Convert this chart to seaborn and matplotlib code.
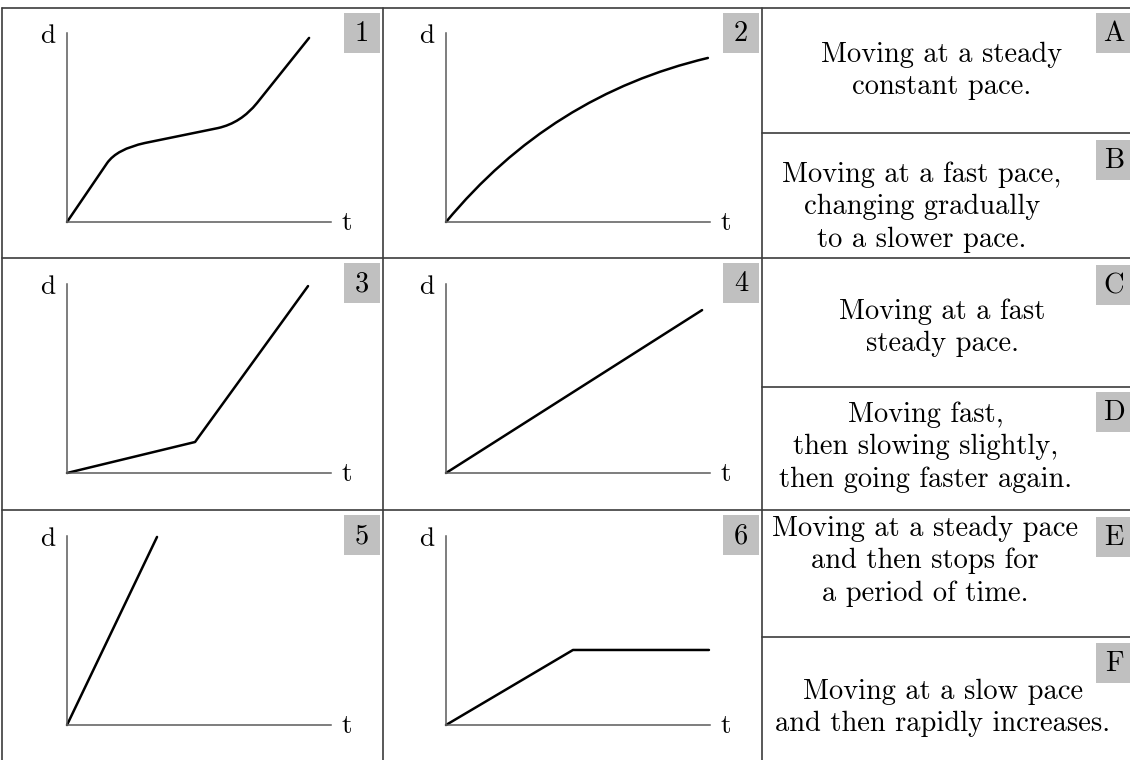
import matplotlib
matplotlib.use("Agg")
import matplotlib.pyplot as plt
from matplotlib.path import Path
from matplotlib.patches import PathPatch, Rectangle
import seaborn as sns

sns.set_theme(style="white")
plt.rcParams["font.family"] = ["cmr10", "DejaVu Serif"]
plt.rcParams["axes.formatter.use_mathtext"] = True

# ---- graph data: time t and distance d, both axes run from 0 to 10 ----
g1_t = [0, 1.52, 1.89, 2.95, 5.72, 6.59, 7.20, 9.17]
g1_d = [0, 3.12, 3.86, 4.18, 4.97, 5.24, 6.30, 9.74]
g1_kind = ["start", "line", "bend", "bend", "line", "bend", "bend", "line"]

g2_t = [0, 3.98, 9.92]
g2_d = [0, 6.72, 8.68]
g2_kind = ["start", "bend", "bend"]

g3_t = [0, 4.85, 9.13]
g3_d = [0, 1.64, 9.89]

g4_t = [0, 9.70]
g4_d = [0, 8.62]

g5_t = [0, 3.41]
g5_d = [0, 9.95]

g6_t = [0, 4.81, 9.96]
g6_d = [0, 3.97, 3.97]

graph_labels = ["1", "2", "3", "4", "5", "6"]
statement_labels = ["A", "B", "C", "D", "E", "F"]
statements = [
    "Moving at a steady\nconstant pace.",
    "Moving at a fast pace,\nchanging gradually\nto a slower pace.",
    "Moving at a fast\nsteady pace.",
    "Moving fast,\nthen slowing slightly,\nthen going faster again.",
    "Moving at a steady pace\nand then stops for\na period of time.",
    "Moving at a slow pace\nand then rapidly increases.",
]

# ---- layout (pixels, y measured from the top) ----
W, H, DPI = 1130, 760, 100
col_x = [2, 383, 762]
row_y = [8, 258, 510]
sub_y = [133, 387, 637]
origin_x = [67, 446]
origin_y = [222, 473, 725]
axis_w, axis_h = 264, 189
text_pos = [(942, 71), (922, 207), (942, 328), (926, 447), (925, 561), (943, 708)]
label_top = [13, 140, 265, 392, 517, 643]

line_col = "#3c3c3c"
axis_col = "#5a5a5a"
box_col = "#c0c0c0"

fig = plt.figure(figsize=(W / DPI, H / DPI), dpi=DPI)
fig.patch.set_facecolor("white")

grid = fig.add_axes([0, 0, 1, 1])
grid.set_xlim(0, W)
grid.set_ylim(H, 0)
grid.axis("off")

# table rules
for y in row_y:
    grid.plot([col_x[0], W], [y, y], color=line_col, lw=1.2)
for x in col_x:
    grid.plot([x, x], [row_y[0], H], color=line_col, lw=1.2)
for y in sub_y:
    grid.plot([col_x[2], W], [y, y], color=line_col, lw=1.2)


def tag(x_right, y_top, text):
    grid.add_patch(Rectangle((x_right - 36, y_top), 36, 40,
                             facecolor=box_col, edgecolor="none"))
    grid.text(x_right - 18, y_top + 21, text, ha="center", va="center",
              fontsize=20.5, color="black")


series = [(g1_t, g1_d, g1_kind), (g2_t, g2_d, g2_kind),
          (g3_t, g3_d, None), (g4_t, g4_d, None),
          (g5_t, g5_d, None), (g6_t, g6_d, None)]

codes_map = {"start": Path.MOVETO, "line": Path.LINETO, "bend": Path.CURVE3}

for i, (t, d, kind) in enumerate(series):
    r, c = divmod(i, 2)
    ox, oy = origin_x[c], origin_y[r]
    ax = fig.add_axes([ox / W, 1 - oy / H, axis_w / W, axis_h / H])
    ax.set_xlim(0, 10)
    ax.set_ylim(0, 10)
    ax.patch.set_alpha(0)
    ax.set_xticks([])
    ax.set_yticks([])
    ax.set_xlabel("")
    ax.set_ylabel("")
    for side in ("top", "right"):
        ax.spines[side].set_visible(False)
    for side in ("left", "bottom"):
        ax.spines[side].set_color(axis_col)
        ax.spines[side].set_linewidth(1.1)
    if kind is None:
        sns.lineplot(x=t, y=d, ax=ax, color="black", linewidth=1.8,
                     sort=False, estimator=None, clip_on=False)
    else:
        path = Path(list(zip(t, d)), [codes_map[k] for k in kind])
        ax.add_patch(PathPatch(path, facecolor="none", edgecolor="black",
                               linewidth=1.8, clip_on=False,
                               capstyle="round", joinstyle="round"))
    # axis names
    grid.text(ox - 19.5, oy - axis_h + 10, "d", ha="center", va="baseline",
              fontsize=19.5, color="black")
    grid.text(ox + axis_w + 16, oy + 8, "t", ha="center", va="baseline",
              fontsize=19.5, color="black")
    tag(col_x[c + 1] - 3, row_y[r] + 5, graph_labels[i])

for i, txt in enumerate(statements):
    x, y = text_pos[i]
    grid.text(x, y, txt, ha="center", va="center", multialignment="center",
              fontsize=20.5, linespacing=1.3, color="black")
    tag(W + 2, label_top[i], statement_labels[i])

fig.savefig("out.png", dpi=DPI, facecolor="white")
